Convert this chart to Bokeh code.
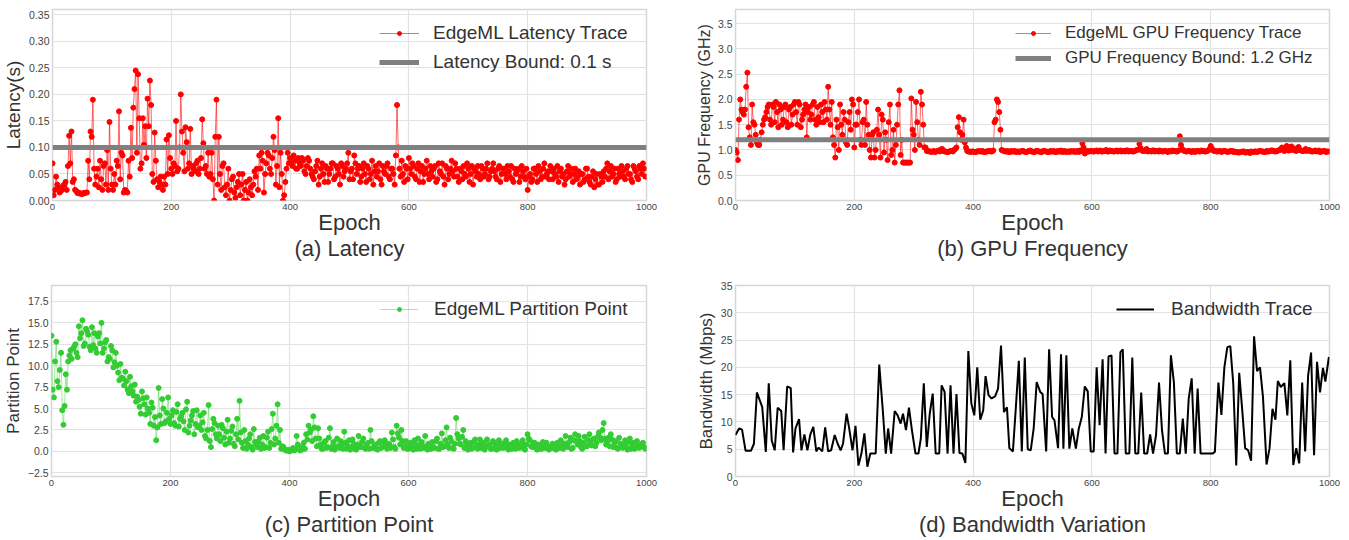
from bokeh.plotting import figure
from bokeh.layouts import column, row
from bokeh.models import Range1d, FixedTicker, Legend, LegendItem, Title
from bokeh.embed import file_html
from bokeh.resources import INLINE

FONT = "Liberation Sans"

# ---------------- data ----------------
epochs = list(range(0, 1000, 4))
epochs_mid = list(range(2, 1000, 4))

latency_s = [
    0.07, 0.02, 0.03, 0.015, 0.02, 0.03, 0.02, 0.122, 0.13, 0.04,
    0.018, 0.015, 0.013, 0.014, 0.015, 0.075, 0.13, 0.19, 0.03, 0.06,
    0.075, 0.02, 0.07, 0.095, 0.148, 0.03, 0.05, 0.075, 0.168, 0.09,
    0.015, 0.018, 0.075, 0.137, 0.175, 0.245, 0.238, 0.06, 0.155, 0.14,
    0.192, 0.226, 0.05, 0.128, 0.04, 0.035, 0.03, 0.045, 0.115, 0.123,
    0.06, 0.07, 0.15, 0.06, 0.2, 0.09, 0.138, 0.06, 0.135, 0.065,
    0.055, 0.075, 0.06, 0.153, 0.06, 0.05, 0.045, 0.09, 0.0, 0.19,
    0.12, 0.02, 0.07, 0.01, 0.06, 0.02, 0.045, 0.005, 0.035, 0.01,
    0.05, 0.02, 0.0, 0.04, 0.01, 0.055, 0.06, 0.085, 0.09, 0.015,
    0.07, 0.085, 0.05, 0.12, 0.03, 0.155, 0.09, 0.0, 0.035, 0.09,
    0.08, 0.065, 0.075, 0.06, 0.07, 0.08, 0.055, 0.065, 0.075, 0.05,
    0.04, 0.065, 0.03, 0.06, 0.05, 0.065, 0.035, 0.06, 0.07, 0.045,
    0.06, 0.03, 0.065, 0.055, 0.07, 0.04, 0.06, 0.085, 0.05, 0.065,
    0.045, 0.07, 0.035, 0.06, 0.05, 0.03, 0.065, 0.055, 0.04, 0.065,
    0.05, 0.07, 0.04, 0.06, 0.03, 0.18, 0.06, 0.075, 0.035, 0.06,
    0.08, 0.05, 0.065, 0.04, 0.07, 0.055, 0.035, 0.06, 0.05, 0.065,
    0.045, 0.065, 0.04, 0.055, 0.07, 0.03, 0.06, 0.05, 0.075, 0.045,
    0.06, 0.035, 0.055, 0.065, 0.045, 0.06, 0.05, 0.03, 0.055, 0.065,
    0.04, 0.06, 0.05, 0.07, 0.045, 0.06, 0.055, 0.04, 0.065, 0.05,
    0.06, 0.04, 0.055, 0.065, 0.035, 0.05, 0.06, 0.045, 0.055, 0.04,
    0.02, 0.05, 0.04, 0.06, 0.035, 0.055, 0.045, 0.07, 0.05, 0.04,
    0.055, 0.06, 0.045, 0.035, 0.06, 0.05, 0.04, 0.065, 0.05, 0.035,
    0.06, 0.045, 0.03, 0.05, 0.04, 0.06, 0.035, 0.045, 0.025, 0.05,
    0.03, 0.045, 0.055, 0.06, 0.04, 0.065, 0.05, 0.035, 0.06, 0.045,
    0.055, 0.04, 0.065, 0.05, 0.035, 0.06, 0.045, 0.065, 0.05, 0.06,
]
latency_mid = [
    0.01, 0.045, 0.025, 0.018, 0.028, 0.035, 0.065, 0.07, 0.035, 0.02,
    0.014, 0.013, 0.012, 0.014, 0.015, 0.04, 0.12, 0.06, 0.045, 0.025,
    0.04, 0.065, 0.03, 0.02, 0.06, 0.02, 0.03, 0.065, 0.04, 0.085,
    0.02, 0.015, 0.045, 0.08, 0.21, 0.09, 0.155, 0.07, 0.105, 0.08,
    0.14, 0.18, 0.035, 0.075, 0.025, 0.045, 0.02, 0.03, 0.05, 0.08,
    0.05, 0.065, 0.055, 0.1, 0.13, 0.055, 0.11, 0.07, 0.05, 0.06,
    0.07, 0.05, 0.08, 0.108, 0.065, 0.09, 0.05, 0.04, 0.12, 0.03,
    0.05, 0.065, 0.025, 0.03, 0.0, 0.04, 0.015, 0.025, 0.05, 0.03,
    0.0, 0.035, 0.015, 0.025, 0.03, 0.045, 0.02, 0.06, 0.075, 0.05,
    0.09, 0.06, 0.08, 0.095, 0.065, 0.025, 0.05, 0.01, 0.06, 0.07,
    0.07, 0.085, 0.06, 0.08, 0.065, 0.075, 0.05, 0.08, 0.06, 0.045,
    0.055, 0.075, 0.045, 0.07, 0.035, 0.06, 0.05, 0.07, 0.04, 0.065,
    0.05, 0.07, 0.045, 0.06, 0.09, 0.055, 0.04, 0.07, 0.06, 0.035,
    0.06, 0.05, 0.065, 0.04, 0.075, 0.055, 0.045, 0.07, 0.03, 0.055,
    0.065, 0.045, 0.06, 0.05, 0.085, 0.1, 0.045, 0.05, 0.065, 0.04,
    0.06, 0.07, 0.045, 0.06, 0.035, 0.065, 0.05, 0.075, 0.04, 0.055,
    0.06, 0.035, 0.07, 0.05, 0.045, 0.065, 0.04, 0.06, 0.055, 0.07,
    0.045, 0.06, 0.04, 0.05, 0.07, 0.035, 0.065, 0.06, 0.045, 0.05,
    0.065, 0.045, 0.06, 0.04, 0.055, 0.07, 0.045, 0.06, 0.035, 0.06,
    0.05, 0.065, 0.045, 0.04, 0.06, 0.055, 0.035, 0.065, 0.045, 0.06,
    0.045, 0.035, 0.06, 0.05, 0.065, 0.04, 0.06, 0.045, 0.055, 0.065,
    0.04, 0.05, 0.065, 0.055, 0.045, 0.03, 0.055, 0.045, 0.06, 0.05,
    0.04, 0.055, 0.05, 0.035, 0.06, 0.045, 0.03, 0.055, 0.04, 0.03,
    0.05, 0.035, 0.045, 0.07, 0.055, 0.045, 0.06, 0.04, 0.05, 0.065,
    0.045, 0.06, 0.05, 0.04, 0.065, 0.055, 0.04, 0.06, 0.07, 0.045,
]

gpu_ghz = [
    1.0, 0.8, 2.0, 1.75, 1.8, 2.53, 1.25, 1.9, 1.5, 1.15,
    1.1, 1.35, 1.6, 1.75, 1.9, 1.5, 1.85, 1.95, 1.45, 1.8,
    1.6, 1.9, 1.45, 1.85, 1.7, 1.95, 1.5, 1.9, 1.6, 1.8,
    1.25, 1.85, 1.7, 1.95, 1.5, 1.65, 1.9, 1.55, 1.8, 2.25,
    1.5, 1.25, 0.85, 1.45, 1.9, 1.3, 1.6, 1.1, 1.75, 2.0,
    1.05, 1.5, 2.0, 1.1, 1.6, 1.95, 1.3, 0.85, 1.35, 1.0,
    1.8, 0.85, 1.6, 1.35, 0.8, 1.9, 1.0, 0.75, 1.5, 2.18,
    1.2, 0.75, 0.75, 0.75, 2.02, 1.3, 1.95, 1.2, 2.15, 1.5,
    1.05, 0.98, 0.97, 0.97, 0.96, 0.98, 0.97, 1.02, 0.97, 0.96,
    0.97, 0.98, 1.0, 1.05, 1.65, 1.2, 1.6, 1.05, 0.97, 0.96,
    0.97, 0.96, 0.97, 0.97, 0.98, 0.96, 0.97, 0.98, 0.97, 1.55,
    2.0, 1.75, 1.0, 0.98, 0.97, 0.96, 0.98, 0.97, 0.96, 0.97,
    0.97, 0.98, 0.96, 0.97, 0.99, 0.97, 0.96, 0.98, 0.97, 0.96,
    0.98, 0.97, 0.96, 0.97, 0.98, 0.96, 0.97, 0.99, 0.97, 0.96,
    0.97, 0.98, 0.97, 0.96, 0.98, 0.99, 1.13, 0.93, 0.98, 0.97,
    0.98, 0.97, 0.99, 0.98, 0.97, 0.98, 1.0, 0.97, 0.98, 0.97,
    0.98, 0.97, 0.99, 0.98, 0.97, 0.99, 0.98, 0.97, 0.98, 1.0,
    1.12, 0.99, 0.98, 1.02, 0.98, 0.97, 0.99, 0.98, 0.97, 0.98,
    0.97, 0.98, 0.96, 0.98, 0.99, 0.98, 0.97, 1.27, 1.02, 0.98,
    0.97, 0.98, 0.96, 0.97, 0.98, 0.97, 0.99, 0.98, 0.97, 0.99,
    1.08, 0.99, 0.98, 0.97, 0.98, 0.97, 0.98, 0.96, 0.97, 0.98,
    0.97, 0.96, 0.95, 0.96, 0.97, 0.95, 0.96, 0.97, 0.96, 0.97,
    0.97, 0.98, 0.97, 0.96, 0.97, 0.98, 0.99, 0.97, 0.98, 1.0,
    1.05, 0.98, 1.08, 0.99, 1.07, 1.03, 0.98, 1.06, 0.99, 0.98,
    1.02, 0.99, 0.98, 0.97, 0.99, 0.98, 0.96, 0.97, 0.98, 0.97,
]
gpu_mid = [
    0.95, 1.6, 1.8, 1.7, 2.25, 1.45, 1.1, 1.55, 1.3, 1.1,
    1.2, 1.5, 1.65, 1.85, 1.6, 1.9, 1.55, 1.75, 1.9, 1.5,
    1.85, 1.55, 1.8, 1.5, 1.9, 1.75, 1.95, 1.45, 1.7, 1.9,
    1.75, 1.6, 1.9, 1.6, 1.85, 1.55, 1.75, 1.95, 1.6, 1.8,
    1.95, 1.1, 1.6, 1.0, 1.5, 1.75, 1.15, 1.55, 1.4, 1.9,
    1.5, 1.75, 1.2, 1.55, 1.1, 1.5, 1.0, 1.3, 0.85, 1.4,
    1.3, 1.7, 0.95, 1.2, 1.55, 0.9, 1.4, 1.1, 1.9, 0.9,
    0.75, 0.75, 0.75, 0.75, 1.4, 1.0, 1.55, 1.1, 1.9, 1.05,
    0.98, 0.97, 0.96, 0.98, 0.97, 0.99, 1.01, 0.98, 0.97, 0.96,
    0.98, 0.97, 1.02, 1.45, 1.35, 1.3, 1.15, 0.98, 0.97, 0.97,
    0.96, 0.97, 0.98, 0.97, 0.96, 0.97, 0.98, 0.97, 0.99, 1.6,
    1.95, 1.4, 0.99, 0.97, 0.98, 0.96, 0.97, 0.98, 0.97, 0.96,
    0.98, 0.97, 0.96, 0.98, 0.97, 0.96, 0.98, 0.97, 0.96, 0.98,
    0.97, 0.96, 0.98, 0.97, 0.96, 0.98, 0.97, 0.96, 0.98, 0.97,
    0.96, 0.97, 0.98, 0.97, 0.96, 0.98, 1.05, 0.95, 0.97, 0.98,
    0.97, 0.98, 0.97, 0.99, 0.97, 0.98, 0.97, 0.99, 0.98, 0.97,
    0.99, 0.98, 0.97, 0.98, 0.99, 0.97, 0.98, 0.97, 0.99, 1.01,
    1.04, 0.98, 0.99, 0.97, 0.98, 0.99, 0.97, 0.98, 0.99, 0.97,
    0.98, 0.97, 0.98, 0.97, 0.98, 0.97, 0.99, 1.1, 0.99, 0.97,
    0.98, 0.97, 0.98, 0.96, 0.98, 0.97, 0.98, 0.97, 0.98, 1.02,
    1.03, 0.98, 0.97, 0.98, 0.96, 0.98, 0.97, 0.97, 0.98, 0.96,
    0.96, 0.95, 0.96, 0.97, 0.95, 0.96, 0.94, 0.96, 0.97, 0.96,
    0.98, 0.97, 0.96, 0.98, 0.97, 0.99, 0.98, 0.97, 0.99, 1.01,
    1.0, 1.04, 0.99, 1.06, 1.0, 0.99, 1.04, 1.0, 0.98, 0.99,
    0.98, 1.0, 0.97, 0.98, 0.97, 0.99, 0.97, 0.98, 0.96, 0.97,
]

partition_pt = [
    13.5, 6.3, 12.8, 7.5, 11.5, 3.1, 9.0, 10.5, 11.8, 12.0,
    12.5, 11.0, 13.2, 15.3, 12.6, 14.0, 12.2, 14.5, 13.8, 11.5,
    13.8, 15.0, 12.0, 13.0, 11.0, 12.3, 9.8, 11.5, 9.2, 10.2,
    8.5, 9.3, 7.2, 8.7, 7.0, 7.8, 6.4, 5.2, 7.0, 5.5,
    6.3, 4.5, 5.7, 3.0, 1.3, 7.4, 3.2, 5.0, 3.5, 6.3,
    3.2, 4.8, 3.0, 5.5, 3.8, 4.5, 2.5, 5.8, 3.0, 4.2,
    2.0, 4.8, 3.0, 2.5, 4.5, 1.5, 5.4, 0.5, 3.8, 2.0,
    3.0, 1.2, 2.7, 0.8, 3.7, 1.5, 2.9, 0.6, 3.8, 5.9,
    1.0, 2.5, 0.3, 1.5, 0.5, 2.6, 0.8, 1.2, 0.3, 1.8,
    0.5, 2.3, 1.0, 4.4, 1.5, 5.5, 2.5, 0.6, 0.2, 0.1,
    0.0, 0.2, 0.1, 1.8, 0.3, 0.2, 1.0, 2.0, 3.0, 2.5,
    4.1, 1.5, 2.7, 0.8, 0.3, 1.2, 0.5, 2.7, 0.6, 0.2,
    1.5, 0.4, 0.8, 2.3, 0.3, 1.3, 0.5, 0.9, 0.2, 1.8,
    0.5, 1.5, 0.3, 1.0, 2.5, 0.4, 0.8, 0.2, 1.2, 0.5,
    1.3, 0.3, 0.8, 2.2, 0.5, 3.0, 1.6, 2.5, 0.4, 1.2,
    0.3, 1.0, 0.2, 0.8, 1.5, 0.3, 0.6, 1.8, 0.2, 0.9,
    1.1, 0.4, 1.5, 0.3, 2.1, 0.6, 2.8, 0.4, 1.2, 0.3,
    3.9, 1.5, 0.8, 2.5, 1.2, 0.2, 1.0, 0.4, 1.4, 0.3,
    1.4, 0.6, 0.2, 1.4, 0.8, 0.3, 1.0, 0.2, 1.3, 0.5,
    0.4, 1.3, 0.2, 0.6, 1.0, 0.3, 0.8, 0.5, 1.3, 0.2,
    2.0, 1.3, 0.5, 1.0, 0.2, 0.7, 0.3, 0.5, 1.0, 0.2,
    0.4, 0.8, 0.2, 0.6, 1.3, 0.3, 1.8, 0.5, 1.6, 0.4,
    2.0, 0.8, 1.2, 0.3, 1.7, 0.6, 2.0, 0.7, 1.5, 1.0,
    2.2, 1.3, 3.3, 0.8, 1.6, 2.0, 0.5, 1.2, 0.3, 0.9,
    0.4, 1.3, 0.2, 1.5, 0.6, 0.3, 1.2, 0.4, 0.8, 0.5,
]
partition_mid = [
    7.2, 10.5, 8.2, 9.5, 4.8, 5.3, 7.2, 11.2, 10.8, 12.2,
    11.5, 14.6, 13.8, 12.3, 14.3, 13.6, 11.8, 12.4, 12.0, 13.4,
    12.6, 11.5, 12.7, 10.5, 10.8, 11.8, 10.4, 10.0, 8.3, 8.6,
    7.7, 8.2, 6.8, 7.6, 6.5, 5.8, 6.0, 4.4, 6.2, 4.3,
    5.0, 3.2, 5.1, 4.0, 2.8, 4.2, 6.1, 3.3, 4.5, 3.8,
    4.2, 3.3, 4.6, 2.9, 4.1, 3.5, 4.9, 2.2, 3.6, 4.7,
    3.2, 2.8, 4.2, 3.4, 1.8, 2.5, 1.2, 2.6, 3.3, 1.5,
    2.0, 3.1, 1.6, 2.3, 1.0, 2.4, 0.9, 2.0, 1.4, 2.2,
    0.4, 1.2, 0.8, 2.0, 0.2, 1.1, 0.5, 1.6, 0.8, 0.4,
    1.6, 0.4, 2.6, 0.8, 3.0, 1.0, 0.3, 0.5, 0.1, 0.2,
    0.1, 0.4, 0.2, 0.8, 0.1, 0.5, 0.3, 1.4, 2.2, 1.2,
    2.8, 0.6, 1.5, 0.3, 1.0, 0.4, 1.6, 0.3, 1.1, 0.5,
    0.6, 1.2, 0.3, 1.0, 0.6, 0.2, 1.4, 0.3, 0.8, 0.5,
    1.1, 0.4, 0.8, 0.3, 1.2, 0.6, 0.3, 1.0, 0.4, 1.1,
    0.6, 0.9, 0.4, 1.4, 0.3, 2.1, 0.8, 1.2, 0.6, 0.3,
    0.8, 0.4, 1.3, 0.3, 0.7, 1.1, 0.4, 0.6, 0.9, 0.3,
    0.5, 1.2, 0.3, 0.9, 0.5, 1.3, 0.8, 1.6, 0.4, 0.9,
    2.0, 0.9, 1.7, 0.4, 0.8, 0.6, 0.3, 1.1, 0.5, 0.8,
    0.4, 1.0, 0.5, 0.7, 0.3, 1.2, 0.5, 0.8, 0.4, 0.9,
    1.0, 0.5, 0.8, 0.3, 0.6, 1.2, 0.4, 0.9, 0.3, 0.8,
    1.5, 0.6, 1.0, 0.4, 0.8, 0.3, 1.1, 0.4, 0.6, 0.5,
    0.9, 0.3, 1.0, 0.4, 0.7, 0.9, 0.6, 1.1, 0.3, 1.3,
    1.2, 1.8, 0.5, 1.0, 0.6, 1.3, 0.9, 1.4, 0.6, 1.7,
    1.6, 2.5, 1.5, 1.2, 0.6, 1.4, 1.0, 0.4, 1.6, 0.5,
    0.8, 0.5, 1.1, 0.3, 1.0, 0.4, 0.7, 0.6, 1.0, 0.3,
]

bw_epoch = [
    0, 6, 11, 17, 26, 31, 36, 45, 51, 56, 61, 66, 71, 77, 81, 87, 93, 97, 101, 107,
    111, 116, 121, 126, 131, 136, 140, 146, 151, 156, 161, 167, 172, 177, 181, 187, 191, 197, 202, 207,
    212, 217, 222, 227, 236, 242, 248, 253, 257, 262, 268, 273, 278, 282, 287, 292, 297, 303, 308, 312,
    317, 322, 327, 332, 337, 343, 347, 352, 357, 362, 367, 372, 377, 382, 387, 392, 397, 402, 407, 412,
    417, 421, 426, 431, 437, 442, 447, 452, 457, 461, 467, 472, 477, 482, 487, 492, 497, 502, 507, 513,
    517, 523, 528, 533, 537, 543, 548, 552, 557, 562, 567, 573, 578, 583, 588, 593, 598, 603, 608, 613,
    618, 623, 628, 633, 638, 643, 648, 652, 657, 663, 668, 673, 678, 683, 688, 693, 698, 703, 708, 713,
    718, 723, 728, 733, 738, 743, 748, 753, 758, 763, 768, 773, 778, 783, 803, 807, 813, 818, 823, 828,
    833, 838, 843, 848, 853, 858, 863, 868, 873, 878, 883, 888, 894, 899, 904, 909, 913, 918, 924, 929,
    934, 939, 944, 949, 954, 959, 964, 969, 974, 979, 984, 989, 993, 999,
]
bw_mbps = [
    7.6, 8.8, 8.6, 4.7, 4.7, 6.0, 15.4, 12.7, 4.5, 17.1, 6.6, 4.8, 12.6, 12.0, 4.8, 16.5, 16.2, 4.4, 8.8, 10.5,
    4.8, 7.7, 4.8, 7.7, 9.1, 4.6, 5.3, 4.6, 9.0, 4.6, 4.8, 7.6, 6.0, 4.8, 6.0, 11.5, 9.1, 4.8, 9.3, 2.0,
    4.2, 7.9, 1.8, 4.2, 4.2, 20.5, 12.1, 4.2, 8.8, 4.2, 12.0, 11.2, 9.7, 11.5, 8.5, 12.6, 8.5, 4.2, 4.2, 7.0,
    17.1, 5.4, 11.5, 15.2, 4.2, 4.2, 16.7, 15.5, 4.2, 16.7, 4.2, 15.1, 4.3, 4.2, 2.5, 23.0, 13.4, 11.2, 20.0, 10.4,
    12.1, 18.4, 14.9, 14.3, 14.7, 16.1, 24.0, 11.8, 12.7, 5.2, 4.6, 12.7, 21.2, 4.6, 21.8, 5.0, 4.8, 8.8, 17.3, 15.5,
    15.1, 4.6, 23.3, 10.9, 10.3, 5.2, 22.4, 5.1, 22.2, 5.1, 8.8, 5.1, 8.8, 10.9, 16.5, 15.6, 4.6, 4.6, 20.0, 9.4,
    21.5, 4.2, 22.0, 22.2, 4.2, 4.2, 22.8, 23.3, 4.2, 4.2, 21.8, 4.2, 4.2, 15.4, 4.2, 4.2, 7.7, 4.2, 7.6, 17.2,
    8.5, 4.2, 4.2, 22.2, 17.3, 4.2, 4.2, 10.6, 4.2, 14.3, 18.0, 4.2, 16.1, 4.2, 4.2, 4.5, 17.2, 11.3, 20.0, 23.7,
    23.9, 17.0, 2.0, 19.0, 12.3, 5.2, 4.8, 2.9, 25.7, 19.3, 20.0, 14.6, 2.2, 5.1, 12.4, 10.4, 17.5, 16.4, 17.1, 11.2,
    21.3, 2.1, 5.2, 2.4, 17.2, 4.6, 18.5, 22.7, 3.9, 21.0, 15.4, 19.9, 17.4, 21.9,
]

epoch_span = [0, 1000]
latency_bound = 0.1
gpu_bound = 1.2

lat_ticks = [0.0, 0.05, 0.10, 0.15, 0.20, 0.25, 0.30, 0.35]
gpu_ticks = [0.0, 0.5, 1.0, 1.5, 2.0, 2.5, 3.0, 3.5]
part_ticks = [-2.5, 0.0, 2.5, 5.0, 7.5, 10.0, 12.5, 15.0, 17.5]
bw_ticks = [0, 5, 10, 15, 20, 25, 30, 35]
epoch_ticks = [0, 200, 400, 600, 800, 1000]

RED = "#ff0000"
GREEN = "#33cc33"
GRAY = "#808080"
TXT = "#333333"
TICK = "#444444"


def interleave(a, b):
    return [v for pair in zip(a, b) for v in pair]


ep_all = interleave(epochs, epochs_mid)
lat_all = interleave(latency_s, latency_mid)
gpu_all = interleave(gpu_ghz, gpu_mid)
part_all = interleave(partition_pt, partition_mid)


def make_fig(width, left, right, top, bottom, yr, yticks, ylabels, ylab, ylab_size, sub):
    p = figure(width=width, height=270, x_range=Range1d(0, 1000), y_range=Range1d(*yr),
               output_backend="svg", toolbar_location=None,
               min_border_left=left, min_border_right=right,
               min_border_top=top, min_border_bottom=bottom)
    p.background_fill_color = "white"
    p.border_fill_color = "white"
    p.outline_line_color = "#d6d6d6"
    p.outline_line_width = 1.5
    p.grid.grid_line_color = "#e2e2e2"
    p.grid.grid_line_width = 1.2
    p.xaxis.ticker = FixedTicker(ticks=epoch_ticks)
    p.yaxis.ticker = FixedTicker(ticks=yticks)
    p.yaxis.major_label_overrides = dict(zip(yticks, ylabels))
    p.xgrid.ticker = FixedTicker(ticks=epoch_ticks)
    p.ygrid.ticker = FixedTicker(ticks=yticks)
    for ax in p.axis:
        ax.axis_line_color = None
        ax.major_tick_line_color = None
        ax.minor_tick_line_color = None
        ax.major_tick_out = 0
        ax.major_tick_in = 0
        ax.minor_tick_out = 0
        ax.minor_tick_in = 0
        ax.major_label_text_font = FONT
        ax.major_label_text_color = TICK
        ax.axis_label_text_font = FONT
        ax.axis_label_text_font_style = "normal"
        ax.axis_label_text_color = TXT
    p.xaxis.major_label_text_font_size = "9.5px"
    p.yaxis.major_label_text_font_size = "10.5px"
    p.xaxis.major_label_standoff = 3
    p.yaxis.major_label_standoff = 3
    p.xaxis.axis_label = "Epoch"
    p.xaxis.axis_label_text_font_size = "22px"
    p.xaxis.axis_label_standoff = -3
    p.yaxis.axis_label = ylab
    p.yaxis.axis_label_text_font_size = ylab_size
    p.yaxis.axis_label_standoff = 2
    t = Title(text=sub, align="center", text_font=FONT, text_font_size="22px",
              text_font_style="normal", text_color=TXT, standoff=-8)
    p.add_layout(t, "below")
    return p


def style_legend(p, items, loc, fs, gw, gh, lh, stand, spacing):
    lg = Legend(items=items, location=loc, background_fill_alpha=0, border_line_color=None,
                padding=0, margin=0, spacing=spacing, glyph_width=gw, glyph_height=gh,
                label_height=lh, label_standoff=stand, label_text_font=FONT,
                label_text_font_size=fs, label_text_color=TXT)
    p.add_layout(lg)


# (a) Latency
pa = make_fig(675, 51, 29, 9, 70, (0, 0.36), lat_ticks, [f"{v:.2f}" for v in lat_ticks],
              "Latency(s)", "19px", "(a) Latency")
la = pa.line(ep_all, lat_all, line_color=RED, line_width=1, line_alpha=0.6)
sa = pa.scatter(ep_all, lat_all, size=5, color=RED)
ba = pa.line(epoch_span, [latency_bound, latency_bound], line_color=GRAY, line_width=5)
ka = pa.scatter(ep_all[:1], lat_all[:1], size=4, color=RED)
style_legend(pa, [LegendItem(label="EdgeML Latency Trace", renderers=[la, ka]),
                  LegendItem(label="Latency Bound: 0.1 s", renderers=[ba])],
             (327, 127), "19px", 40, 10, 22, 14, 7)

# (b) GPU frequency
pb = make_fig(674, 60, 20, 9, 70, (0, 3.78), gpu_ticks, [f"{v:.1f}" for v in gpu_ticks],
              "GPU Frequency (GHz)", "16px", "(b) GPU Frequency")
lb = pb.line(ep_all, gpu_all, line_color=RED, line_width=1, line_alpha=0.6)
sb = pb.scatter(ep_all, gpu_all, size=5, color=RED)
bb = pb.line(epoch_span, [gpu_bound, gpu_bound], line_color=GRAY, line_width=5)
kb = pb.scatter(ep_all[:1], gpu_all[:1], size=4, color=RED)
style_legend(pb, [LegendItem(label="EdgeML GPU Frequency Trace", renderers=[lb, kb]),
                  LegendItem(label="GPU Frequency Bound: 1.2 GHz", renderers=[bb])],
             (280, 132), "17px", 36, 10, 20, 14, 5)

# (c) Partition point
pc = make_fig(675, 51, 29, 15, 64, (-2.93, 19.36), part_ticks,
              [("\u2212" + f"{-v:.1f}") if v < 0 else f"{v:.1f}" for v in part_ticks],
              "Partition Point", "17px", "(c) Partition Point")
lc = pc.line(ep_all, part_all, line_color=GREEN, line_width=1, line_alpha=0.45)
sc = pc.scatter(ep_all, part_all, size=5, color=GREEN)
kc = pc.scatter(ep_all[:1], part_all[:1], size=4, color=GREEN)
style_legend(pc, [LegendItem(label="EdgeML Partition Point", renderers=[lc, kc])],
             (329, 156), "19px", 38, 10, 22, 16, 0)

# (d) Bandwidth
pd_ = make_fig(674, 60, 20, 15, 64, (0, 35), bw_ticks, [str(v) for v in bw_ticks],
               "Bandwidth (Mbps)", "17px", "(d) Bandwidth Variation")
ld = pd_.line(bw_epoch, bw_mbps, line_color="black", line_width=2)
style_legend(pd_, [LegendItem(label="Bandwidth Trace", renderers=[ld])],
             (381, 156), "19px", 38, 22, 22, 17, 0)

layout = column(row(pa, pb), row(pc, pd_))
open("out.html", "w").write(file_html(layout, INLINE))
